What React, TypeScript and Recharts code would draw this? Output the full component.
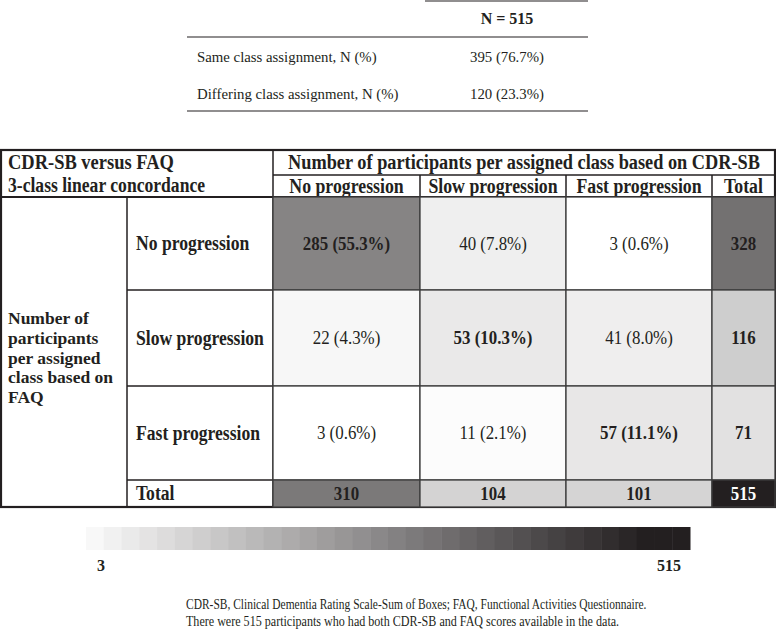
import React from 'react';
import { ScatterChart, Scatter, XAxis, YAxis, Customized } from 'recharts';

// ---------- data ----------
const classes = ['No progression', 'Slow progression', 'Fast progression'];
const faqNoProgression = [285, 40, 3];
const faqSlowProgression = [22, 53, 41];
const faqFastProgression = [3, 11, 57];
const rowTotals = [328, 116, 71];
const colTotals = [310, 104, 101];
const grandTotal = 515;
const sameAssignment = 395;
const differingAssignment = 120;
const scaleMin = 3;
const scaleMax = 515;

// ---------- layout ----------
const W = 776;
const H = 629;
const colEdges = [1, 127, 273, 420, 566, 712, 775];
const rowEdges = [150, 175, 197, 290, 386, 480, 507];
const FONT = '"Liberation Serif", "Times New Roman", serif';
const INK = '#231f20';
const SX = 0.88; // horizontal condensation of the table's type

const pct = (v: number) => `${v} (${((v / grandTotal) * 100).toFixed(1)}%)`;

const shade = (v: number) => {
  const t = Math.max(0, Math.min(1, (v - scaleMin) / (scaleMax - scaleMin)));
  const lo = [255, 255, 255];
  const hi = [35, 31, 32];
  const c = lo.map((l, i) => Math.round(l + (hi[i] - l) * t));
  return `rgb(${c[0]},${c[1]},${c[2]})`;
};

type Cell = { x: number; y: number; w: number; h: number; v: number; label: string; bold: boolean };
const matrix = [faqNoProgression, faqSlowProgression, faqFastProgression];
const cells: Cell[] = [];
const addCell = (r: number, c: number, v: number, label: string, bold: boolean) => {
  const x0 = colEdges[c + 2];
  const x1 = colEdges[c + 3];
  const y0 = rowEdges[r + 2];
  const y1 = rowEdges[r + 3];
  cells.push({ x: (x0 + x1) / 2, y: (y0 + y1) / 2, w: x1 - x0, h: y1 - y0, v, label, bold });
};
matrix.forEach((row, r) => row.forEach((v, c) => addCell(r, c, v, pct(v), r === c)));
rowTotals.forEach((v, r) => addCell(r, 3, v, String(v), true));
colTotals.forEach((v, c) => addCell(3, c, v, String(v), true));
addCell(3, 3, grandTotal, String(grandTotal), true);

const Txt = ({ x, y, size = 17, bold = false, anchor = 'start', sx, fill = INK, children }: any) => (
  <text
    x={sx ? 0 : x}
    y={sx ? 0 : y}
    transform={sx ? `translate(${x},${y}) scale(${sx},1)` : undefined}
    fontFamily={FONT}
    fontSize={size}
    fontWeight={bold ? 700 : 400}
    fill={fill}
    textAnchor={anchor}
    dominantBaseline="central"
  >
    {children}
  </text>
);

const CellShape = (props: any) => {
  const { cx, cy, payload } = props;
  if (cx == null || cy == null) return null;
  const p = payload as Cell;
  const t = (p.v - scaleMin) / (scaleMax - scaleMin);
  return (
    <g>
      <rect x={cx - p.w / 2} y={cy - p.h / 2} width={p.w} height={p.h} fill={shade(p.v)} stroke="#3c3c3c" strokeWidth={1.3} />
      <Txt x={cx} y={cy} size={19.2} sx={SX} bold={p.bold} anchor="middle" fill={t > 0.8 ? '#ffffff' : INK}>
        {p.label}
      </Txt>
    </g>
  );
};

const leftLabel = ['Number of', 'participants', 'per assigned', 'class based on', 'FAQ'];
const barSteps = 34;

const Chrome = () => {
  const L = colEdges;
  const R = rowEdges;
  const line = (x1: number, y1: number, x2: number, y2: number, w = 1.5) => (
    <line x1={x1} y1={y1} x2={x2} y2={y2} stroke={INK} strokeWidth={w} />
  );
  const barX0 = 86;
  const barX1 = 690;
  const stepW = (barX1 - barX0) / barSteps;
  return (
    <g>
      {/* summary table */}
      {line(425, 1, 588, 1, 1.2)}
      {line(187, 37, 588, 37, 1.2)}
      {line(187, 111, 588, 111, 1.2)}
      <Txt x={507} y={18} size={16} bold anchor="middle">N = {grandTotal}</Txt>
      <Txt x={197} y={57} size={14.8}>Same class assignment, N (%)</Txt>
      <Txt x={507} y={57} size={14.8} anchor="middle">{pct(sameAssignment)}</Txt>
      <Txt x={197} y={94} size={14.8}>Differing class assignment, N (%)</Txt>
      <Txt x={507} y={94} size={14.8} anchor="middle">{pct(differingAssignment)}</Txt>

      {/* main table grid */}
      {line(L[2], R[1], L[6], R[1])}
      {line(L[0], R[2], L[6], R[2], 2.2)}
      {[3, 4, 5].map((i) => (
        <React.Fragment key={i}>{line(L[1], R[i], L[6], R[i])}</React.Fragment>
      ))}
      {line(L[1], R[2], L[1], R[6])}
      {line(L[2], R[0], L[2], R[6])}
      {[3, 4, 5].map((i) => (
        <React.Fragment key={'v' + i}>{line(L[i], R[1], L[i], R[6])}</React.Fragment>
      ))}
      <rect x={L[0]} y={R[0]} width={L[6] - L[0]} height={R[6] - R[0]} fill="none" stroke={INK} strokeWidth={2.2} />

      {/* headers */}
      <Txt x={8} y={162} size={21} sx={SX} bold>CDR-SB versus FAQ</Txt>
      <Txt x={8} y={185} size={20} sx={SX} bold>3-class linear concordance</Txt>
      <Txt x={(L[2] + L[6]) / 2} y={162} size={20.8} sx={SX} bold anchor="middle">
        Number of participants per assigned class based on CDR-SB
      </Txt>
      {[...classes, 'Total'].map((c, i) => (
        <Txt key={c} x={(L[i + 2] + L[i + 3]) / 2} y={186} size={20.2} sx={SX} bold anchor="middle">{c}</Txt>
      ))}
      {[...classes, 'Total'].map((c, i) => (
        <Txt key={'r' + c} x={136} y={(R[i + 2] + R[i + 3]) / 2} size={20} sx={SX} bold>{c}</Txt>
      ))}
      {leftLabel.map((s, i) => (
        <Txt key={s} x={8} y={318 + i * 19.8} size={17.5} bold>{s}</Txt>
      ))}

      {/* colour scale */}
      {Array.from({ length: barSteps }).map((_, i) => (
        <rect
          key={'b' + i}
          x={barX0 + i * stepW}
          y={527}
          width={stepW + 0.5}
          height={23}
          fill={shade(scaleMin + ((scaleMax - scaleMin) * Math.min(1, (i + 1) / (barSteps - 2))))}
        />
      ))}
      <Txt x={101} y={565} size={16} bold anchor="middle">{scaleMin}</Txt>
      <Txt x={681} y={565} size={16} bold anchor="end">{scaleMax}</Txt>

      {/* footnote */}
      <Txt x={186} y={604} size={15.5} sx={0.74}>
        CDR-SB, Clinical Dementia Rating Scale-Sum of Boxes; FAQ, Functional Activities Questionnaire.
      </Txt>
      <Txt x={186} y={621} size={15.5} sx={0.78}>
        There were 515 participants who had both CDR-SB and FAQ scores available in the data.
      </Txt>
    </g>
  );
};

export default function App() {
  return (
    <div style={{ position: 'absolute', left: 0, top: 0, width: W, height: H, background: '#fff' }}>
      <ScatterChart width={W} height={H} margin={{ top: 0, right: 0, bottom: 0, left: 0 }}>
        <XAxis type="number" dataKey="x" domain={[0, W]} hide />
        <YAxis type="number" dataKey="y" domain={[0, H]} reversed hide />
        <Scatter data={cells} shape={CellShape} isAnimationActive={false} />
        <Customized component={Chrome} />
      </ScatterChart>
    </div>
  );
}
